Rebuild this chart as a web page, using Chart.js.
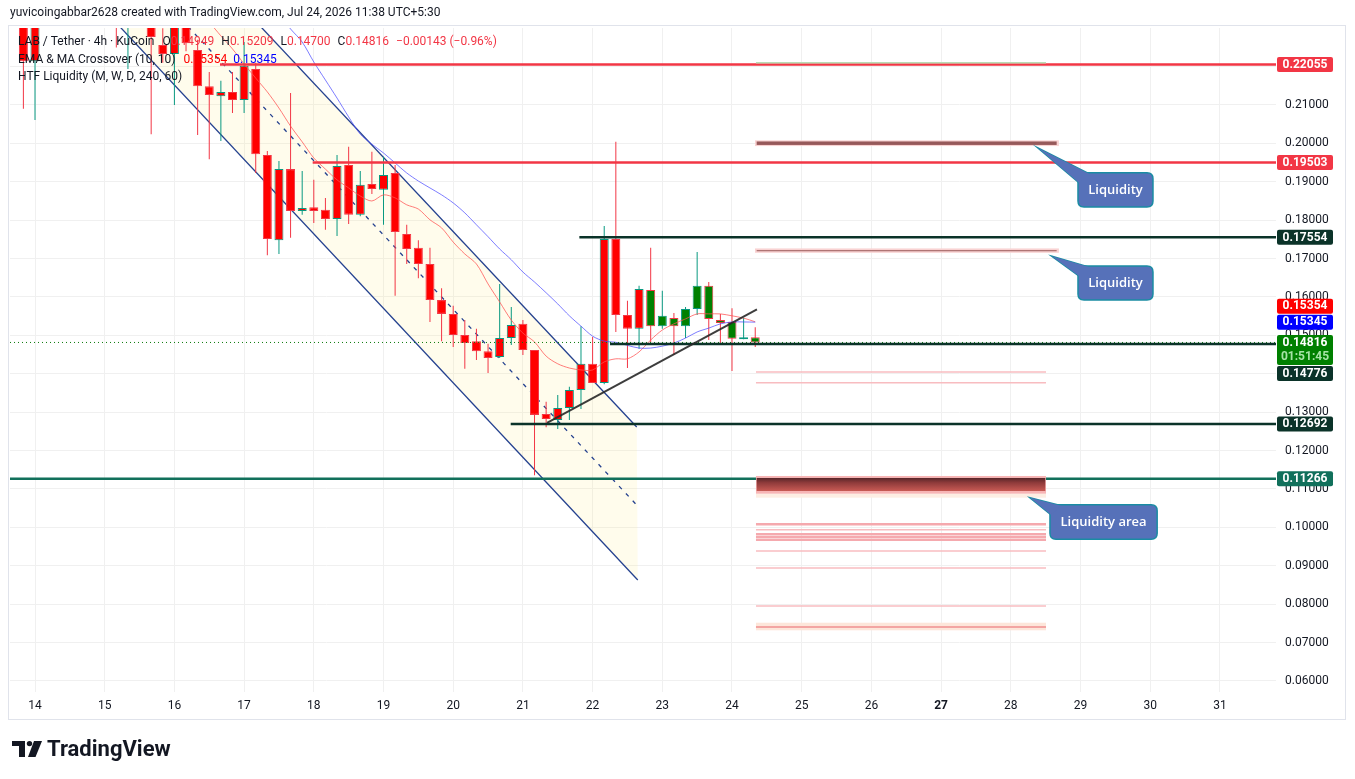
<!DOCTYPE html>
<html>
<head>
<meta charset="utf-8">
<script src="https://cdn.jsdelivr.net/npm/chart.js@4.4.1/dist/chart.umd.min.js"></script>
<style>
html,body{margin:0;padding:0;background:#ffffff;overflow:hidden;}
canvas{display:block;}
</style>
</head>
<body>
<canvas id="c" width="1355" height="779"></canvas>
<script>
// ================= DATA =================
// 4h candles, first one = Jul 13 20:00 (day 13.833), last = Jul 24 08:00
const firstCandleDay = 13 + 20 / 24;
const candleStepDays = 4 / 24;

const opens = [0.2345,0.2214,0.2330,0.2390,0.2420,0.2400,0.2440,0.2410,0.2380,0.2350,0.2400,0.2360,0.2256,0.2233,0.2330,0.2243,
  0.2149,0.2123,0.2134,0.2113,0.2194,0.1970,0.1748,0.1933,0.1824,0.1834,0.1827,0.1803,0.1944,0.1814,0.1894,0.1879,0.1923,
  0.1764,0.1728,0.1686,0.1592,0.1556,0.1501,0.1485,0.1459,0.1444,0.1493,0.1530,0.1462,0.1295,0.1280,0.1311,0.1358,0.1426,
  0.1376,0.1751,0.1553,0.1517,0.1618,0.1524,0.1545,0.1524,0.1569,0.1629,0.1540,0.1535,0.1490,0.14949];
const highs = [0.2380,0.2360,0.2420,0.2450,0.2480,0.2460,0.2500,0.2450,0.2420,0.2440,0.2430,0.2400,0.2300,0.2360,0.2350,0.2270,
  0.2186,0.2163,0.2186,0.2264,0.2210,0.1980,0.1954,0.2131,0.1928,0.1905,0.1858,0.1970,0.1991,0.1928,0.1978,0.1965,0.1944,
  0.1788,0.1748,0.1728,0.1623,0.1577,0.1540,0.1517,0.1478,0.1634,0.1574,0.1540,0.1462,0.1327,0.1345,0.1366,0.1524,0.1496,
  0.1785,0.2004,0.1590,0.1629,0.1728,0.1616,0.1558,0.1574,0.1717,0.1639,0.1556,0.1571,0.1545,0.15209];
const lows = [0.2090,0.2061,0.2320,0.2350,0.2380,0.2350,0.2380,0.2340,0.2250,0.2194,0.2330,0.2024,0.2210,0.2100,0.2240,0.2022,
  0.1959,0.2006,0.2079,0.2079,0.1923,0.1709,0.1712,0.1754,0.1814,0.1793,0.1775,0.1759,0.1790,0.1810,0.1868,0.1788,0.1603,
  0.1686,0.1649,0.1535,0.1485,0.1470,0.1413,0.1436,0.1402,0.1441,0.1475,0.1449,0.1136,0.1261,0.1256,0.1280,0.1308,0.1376,
  0.1373,0.1509,0.1415,0.1465,0.1483,0.1517,0.1449,0.1493,0.1553,0.1488,0.1475,0.1407,0.1490,0.14700];
const closes = [0.2214,0.2330,0.2390,0.2420,0.2400,0.2440,0.2410,0.2380,0.2350,0.2400,0.2360,0.2277,0.2233,0.2330,0.2261,0.2149,
  0.2126,0.2134,0.2113,0.2202,0.1972,0.1751,0.1933,0.1824,0.1832,0.1824,0.1803,0.1941,0.1814,0.1892,0.1881,0.1918,0.1769,
  0.1725,0.1686,0.1592,0.1556,0.1501,0.1480,0.1459,0.1441,0.1493,0.1527,0.1462,0.1293,0.1282,0.1311,0.1358,0.1426,0.1376,
  0.1751,0.1553,0.1517,0.1621,0.1524,0.1551,0.1524,0.1569,0.1629,0.1543,0.1532,0.1491,0.14949,0.14816];
const greenBarsFrom = 54; // bar-colour of the indicator turns green from this candle

// EMA (10) and MA (10)
const emaStart = 16;
const emaValues = [0.2316,0.2280,0.2246,0.2207,0.2170,0.2134,0.2092,0.2045,0.2004,0.1962,0.1933,0.1905,0.1884,0.1863,0.1850,
  0.1866,0.1858,0.1840,0.1829,0.1801,0.1780,0.1743,0.1712,0.1686,0.1634,0.1587,0.1540,0.1506,0.1483,0.1446,0.1426,0.1415,
  0.1410,0.1410,0.1431,0.1439,0.1439,0.1457,0.1488,0.1514,0.1530,0.1543,0.1556,0.1556,0.1556,0.1551,0.1545,0.15354];
const maStart = 22;
const maValues = [0.2337,0.2298,0.2264,0.2212,0.2165,0.2118,0.2069,0.2024,0.1998,0.1975,0.1949,0.1923,0.1902,0.1884,0.1866,
  0.1845,0.1819,0.1788,0.1757,0.1725,0.1697,0.1665,0.1639,0.1611,0.1582,0.1551,0.1524,0.1498,0.1485,0.1482,0.1474,0.1467,
  0.1467,0.1472,0.1480,0.1493,0.1509,0.1519,0.1530,0.1535,0.1535,0.15345];

// descending channel drawing (day, price)
const upperChannel = [{x:17.0, y:0.2350}, {x:22.633, y:0.12615}];
const midChannel   = [{x:16.0, y:0.2342}, {x:22.633, y:0.10583}];
const lowerChannel = [{x:15.0, y:0.2346}, {x:22.648, y:0.0863}];
// rising trend line
const trendLine = [{x:21.346, y:0.1272}, {x:24.358, y:0.15675}];

// horizontal levels
const levelPrices = [0.22055, 0.19503, 0.17554, 0.14776, 0.12692, 0.11266];
const levelStartDays = [16.654, 17.984, 21.81, 22.25, 20.825, 13.6];
const levelColors = ['#f23645','#f23645','#0b3329','#0b3329','#0b3329','#11705b'];

// HTF liquidity lines (price) and zones
const liqLinePrices = [0.2210, 0.14047, 0.13768, 0.10081, 0.0994, 0.0982, 0.0975, 0.0968, 0.09385, 0.08943, 0.07953, 0.07406];
const liqLineWidths = [1.5, 1.5, 1.5, 2.5, 1.5, 2.5, 2, 2.5, 1.5, 1.5, 1.5, 2.5];
const liqLineColors = ['#b9dcb4','#f8bcc0','#f8bcc0','#f5a9ae','#f8bcc0','#f5a9ae','#f5a9ae','#f5a9ae','#f8bcc0','#f8bcc0','#f8bcc0','#f19d9d'];
const liqFrom = 24.344, liqTo = 28.505;
const liqZoneTops = [0.2008, 0.2005, 0.17265, 0.17218, 0.10878, 0.11339, 0.07518];
const liqZoneBottoms = [0.1993, 0.1996, 0.17151, 0.17192, 0.10774, 0.10878, 0.0732];
const liqZoneFrom = [24.33, 24.354, 24.33, 24.354, 24.344, 24.344, 24.344];
const liqZoneTo = [28.69, 28.658, 28.69, 28.658, 28.505, 28.505, 28.505];
const liqZoneColors = ['#f9d2d2','#96595a','#f9d2d2','#9a5c5c','#fdeee3','#f7b5b5','#fde6da'];
const liqCoreTop = 0.11287, liqCoreBottom = 0.10948;

// callouts
const calloutTexts = ['Liquidity', 'Liquidity', 'Liquidity area'];
const calloutLeft = [28.964, 28.964, 28.562];
const calloutRight = [30.04, 30.04, 30.10];
const calloutTop = [0.19237, 0.16807, 0.10591];
const calloutBottom = [0.18344, 0.15922, 0.0969];
const calloutTipDay = [28.39, 28.591, 28.275];
const calloutTipPrice = [0.1988, 0.1706, 0.10773];

// axes
const dayTicks = [14,15,16,17,18,19,20,21,22,23,24,25,26,27,28,29,30,31];
const yTickValues = [0.06,0.07,0.08,0.09,0.10,0.11,0.12,0.13,0.14,0.15,0.16,0.17,0.18,0.19,0.20,0.21,0.22];
const X_MIN = 13.6413, X_MAX = 31.8049, Y_MIN = 0.057135, Y_MAX = 0.23005;

// ================= BUILD =================
const FONT = 'Roboto, "Liberation Sans", sans-serif';
const UP = '#089981', DOWN = '#f23645';
const candleDays = opens.map((_, i) => firstCandleDay + i * candleStepDays);
const isUp = opens.map((o, i) => closes[i] >= o);
const last = closes.length - 1;

const lineDS = (data, color, width, order, extra) => Object.assign({
  type: 'line', data, borderColor: color, borderWidth: width, pointRadius: 0,
  fill: false, tension: 0, clip: 0, order
}, extra || {});

const datasets = [];
// channel lines
datasets.push(lineDS(upperChannel, '#24418f', 1.3, 20));
datasets.push(lineDS(lowerChannel, '#24418f', 1.3, 20));
datasets.push(lineDS(midChannel, '#24418f', 1.3, 20, {borderDash: [4, 6]}));
// wicks
datasets.push({
  type: 'bar', data: candleDays.map((d, i) => ({x: d, y: [lows[i], highs[i]]})),
  backgroundColor: isUp.map(u => u ? UP : DOWN), barThickness: 1, grouped: false,
  borderWidth: 0, inflateAmount: 0, clip: 0, order: 15
});
// bodies
datasets.push({
  type: 'bar', data: candleDays.map((d, i) => ({x: d, y: [opens[i], closes[i]]})),
  backgroundColor: opens.map((_, i) => i >= greenBarsFrom ? '#008000' : '#ff0000'),
  borderColor: isUp.map(u => u ? UP : DOWN), borderWidth: 1, borderSkipped: false,
  barThickness: 9, grouped: false, minBarLength: 1, inflateAmount: 0, clip: 0, order: 14
});
// EMA / MA
datasets.push(lineDS(emaValues.map((v, i) => ({x: candleDays[emaStart + i], y: v})), 'rgba(255,82,82,0.75)', 1, 12, {tension: 0.3}));
datasets.push(lineDS(maValues.map((v, i) => ({x: candleDays[maStart + i], y: v})), 'rgba(70,70,255,0.7)', 1, 11, {tension: 0.3}));
// current price dotted line
datasets.push(lineDS([{x: X_MIN, y: closes[last]}, {x: X_MAX, y: closes[last]}], '#0c7a0c', 1, 9, {borderDash: [1, 3]}));
// levels
levelPrices.forEach((p, i) => {
  datasets.push(lineDS([{x: levelStartDays[i], y: p}, {x: X_MAX, y: p}], levelColors[i], 2.6, 8));
});
// trend line
datasets.push(lineDS(trendLine, 'rgba(40,40,40,0.9)', 2, 7));

// ================= PLUGIN =================
function roundRect(ctx, x, y, w, h, r) {
  ctx.beginPath();
  ctx.moveTo(x + r, y); ctx.lineTo(x + w - r, y); ctx.quadraticCurveTo(x + w, y, x + w, y + r);
  ctx.lineTo(x + w, y + h - r); ctx.quadraticCurveTo(x + w, y + h, x + w - r, y + h);
  ctx.lineTo(x + r, y + h); ctx.quadraticCurveTo(x, y + h, x, y + h - r);
  ctx.lineTo(x, y + r); ctx.quadraticCurveTo(x, y, x + r, y); ctx.closePath();
}

const extras = {
  id: 'tvExtras',
  beforeDatasetsDraw(chart) {
    const {ctx, chartArea: a, scales: {x, y}} = chart;
    const P = pt => [x.getPixelForValue(pt.x), y.getPixelForValue(pt.y)];
    ctx.save();
    ctx.beginPath(); ctx.rect(a.left, a.top, a.right - a.left, a.bottom - a.top); ctx.clip();
    ctx.beginPath();
    ctx.moveTo(...P(upperChannel[0])); ctx.lineTo(...P(upperChannel[1]));
    ctx.lineTo(...P(lowerChannel[1])); ctx.lineTo(...P(lowerChannel[0]));
    ctx.closePath();
    ctx.fillStyle = 'rgba(255,236,120,0.14)';
    ctx.fill();
    ctx.restore();
  },
  afterDatasetsDraw(chart) {
    const {ctx, chartArea: a, scales: {x, y}} = chart;
    const X = v => x.getPixelForValue(v), Y = v => y.getPixelForValue(v);
    ctx.save();
    ctx.beginPath(); ctx.rect(a.left, a.top, a.right - a.left, a.bottom - a.top); ctx.clip();
    liqLinePrices.forEach((p, i) => {
      ctx.strokeStyle = liqLineColors[i]; ctx.lineWidth = liqLineWidths[i];
      ctx.beginPath(); ctx.moveTo(X(liqFrom), Y(p)); ctx.lineTo(X(liqTo), Y(p)); ctx.stroke();
    });
    liqZoneTops.forEach((t, i) => {
      const L = X(liqZoneFrom[i]), R = X(liqZoneTo[i]), T = Y(t), B = Y(liqZoneBottoms[i]);
      ctx.fillStyle = liqZoneColors[i]; ctx.fillRect(L, T, R - L, Math.max(1, B - T));
    });
    ctx.strokeStyle = '#ef8f8f'; ctx.lineWidth = 1.5;
    ctx.beginPath(); ctx.moveTo(X(liqFrom), Y(0.07406)); ctx.lineTo(X(liqTo), Y(0.07406)); ctx.stroke();
    {
      const L = X(liqFrom + 0.01), R = X(liqTo - 0.01), T = Y(liqCoreTop), B = Y(liqCoreBottom);
      const g = ctx.createLinearGradient(0, T, 0, B);
      g.addColorStop(0, '#582629'); g.addColorStop(0.35, '#8d3a3a'); g.addColorStop(1, '#c85a54');
      ctx.fillStyle = g; ctx.fillRect(L, T, R - L, B - T);
    }
    ctx.restore();

    ctx.save();
    calloutTexts.forEach((t, i) => {
      const L = X(calloutLeft[i]), R = X(calloutRight[i]), T = Y(calloutTop[i]), B = Y(calloutBottom[i]);
      const tx = X(calloutTipDay[i]), ty = Y(calloutTipPrice[i]);
      const tri = () => { ctx.beginPath(); ctx.moveTo(tx, ty); ctx.lineTo(L + 11, T + 1); ctx.lineTo(L + 1, T + 10); ctx.closePath(); };
      ctx.fillStyle = '#5671b9'; ctx.strokeStyle = '#1a8ca3'; ctx.lineWidth = 1.5;
      tri(); ctx.fill(); ctx.stroke();
      roundRect(ctx, L, T, R - L, B - T, 6); ctx.fill(); ctx.stroke();
      tri(); ctx.fill();
      ctx.fillStyle = '#ffffff'; ctx.font = '600 13px "Open Sans", ' + FONT;
      ctx.textAlign = 'center'; ctx.textBaseline = 'middle';
      ctx.fillText(t, (L + R) / 2, (T + B) / 2 + 0.5);
    });
    ctx.restore();
  },
  afterDraw(chart) {
    const {ctx, chartArea: a, scales: {y}} = chart;
    const Y = v => y.getPixelForValue(v);
    ctx.save();
    ctx.strokeStyle = '#e0e3eb'; ctx.lineWidth = 1;
    ctx.strokeRect(8.5, 25.5, 1337, 694);

    const tags = levelPrices.map((v, i) => ({v, bg: levelColors[i]}));
    tags.push({v: emaValues[emaValues.length - 1], bg: '#ff0000'});
    tags.push({v: maValues[maValues.length - 1], bg: '#0000ff'});
    const anchor = {v: closes[last], bg: '#008000', sub: '01:51:45'};
    const H = 15, HA = 30;
    anchor.top = Y(anchor.v) - H / 2; anchor.h = HA;
    const above = tags.filter(t => t.v > anchor.v).sort((p, q) => p.v - q.v);
    const below = tags.filter(t => t.v <= anchor.v).sort((p, q) => q.v - p.v);
    let lim = anchor.top - 1;
    above.forEach(t => { const c = Math.min(Y(t.v), lim - H / 2); t.top = c - H / 2; t.h = H; lim = t.top - 1; });
    lim = anchor.top + HA + 1;
    below.forEach(t => { const c = Math.max(Y(t.v), lim + H / 2); t.top = c - H / 2; t.h = H; lim = t.top + H + 1; });
    const bx = a.right + 1, bw = 56;
    [...above, ...below, anchor].forEach(t => {
      ctx.fillStyle = t.bg;
      roundRect(ctx, bx, t.top, bw, t.h, 2); ctx.fill();
      ctx.fillStyle = '#ffffff'; ctx.font = 'bold 12px ' + FONT;
      ctx.textAlign = 'center'; ctx.textBaseline = 'middle';
      ctx.fillText(t.v.toFixed(5), bx + bw / 2, t.top + 7.8);
      if (t.sub) { ctx.fillStyle = '#a6e3a6'; ctx.fillText(t.sub, bx + bw / 2, t.top + 22.5); }
    });

    ctx.textAlign = 'left'; ctx.textBaseline = 'middle';
    ctx.font = '12px ' + FONT; ctx.fillStyle = '#131722';
    ctx.fillText('yuvicoingabbar2628 created with TradingView.com, Jul 24, 2026 11:38 UTC+5:30', 10, 13);

    const drawParts = (parts, x0, yy) => {
      let xx = x0;
      parts.forEach(([t, c, g]) => { ctx.fillStyle = c; ctx.fillText(t, xx, yy); xx += ctx.measureText(t).width + (g || 0); });
    };
    const dk = '#131722', rd = '#f23645';
    ctx.font = '12px ' + FONT;
    drawParts([
      ['LAB / Tether · 4h · KuCoin', dk, 8],
      ['O', dk], [opens[last].toFixed(5), rd, 7],
      ['H', dk], [highs[last].toFixed(5), rd, 7],
      ['L', dk], [lows[last].toFixed(5), rd, 7],
      ['C', dk], [closes[last].toFixed(5), rd, 7],
      ['\u22120.00143 (\u22120.96%)', rd]
    ], 18, 42);
    drawParts([
      ['EMA & MA Crossover (10, 10)', dk, 8],
      [emaValues[emaValues.length - 1].toFixed(5), '#ff0000', 6],
      [maValues[maValues.length - 1].toFixed(5), '#0000ff']
    ], 18, 60);
    drawParts([['HTF Liquidity (M, W, D, 240, 60)', dk]], 18, 77);

    ctx.fillStyle = '#131722';
    ctx.fillRect(12, 741, 13, 5);
    ctx.fillRect(19, 741, 6, 16);
    ctx.beginPath(); ctx.arc(29.5, 743.6, 2.7, 0, Math.PI * 2); ctx.fill();
    ctx.beginPath(); ctx.moveTo(34, 741); ctx.lineTo(42, 741); ctx.lineTo(35.5, 757); ctx.lineTo(28, 757); ctx.closePath(); ctx.fill();
    ctx.font = 'bold 22px ' + FONT;
    ctx.fillText('TradingView', 47, 750);
    ctx.restore();
  }
};

Chart.defaults.font.family = FONT;
new Chart(document.getElementById('c'), {
  type: 'bar',
  data: {datasets},
  options: {
    responsive: false, animation: false, devicePixelRatio: 1,
    layout: {padding: {left: 10, right: 10, top: 28, bottom: 60}},
    plugins: {legend: {display: false}, tooltip: {enabled: false}},
    scales: {
      x: {
        type: 'linear', min: X_MIN, max: X_MAX, offset: false,
        grid: {color: '#f0f0f0', drawTicks: false, offset: false},
        border: {display: false},
        afterBuildTicks: s => { s.ticks = dayTicks.map(v => ({value: v})); },
        afterFit: s => { s.height = 27; },
        ticks: {
          padding: 7, color: '#131722', maxRotation: 0, autoSkip: false,
          font: c => ({family: FONT, size: 12, weight: (c.tick && c.tick.value === 27) ? 'bold' : 'normal'}),
          callback: v => String(v)
        }
      },
      y: {
        type: 'linear', position: 'right', min: Y_MIN, max: Y_MAX,
        grid: {color: '#f0f0f0', drawTicks: false},
        border: {display: false},
        afterBuildTicks: s => { s.ticks = yTickValues.map(v => ({value: v})); },
        afterFit: s => { s.width = 69; },
        ticks: {padding: 9, color: '#131722', font: {family: FONT, size: 12}, callback: v => Number(v).toFixed(5)}
      }
    }
  },
  plugins: [extras]
});
</script>
</body>
</html>
